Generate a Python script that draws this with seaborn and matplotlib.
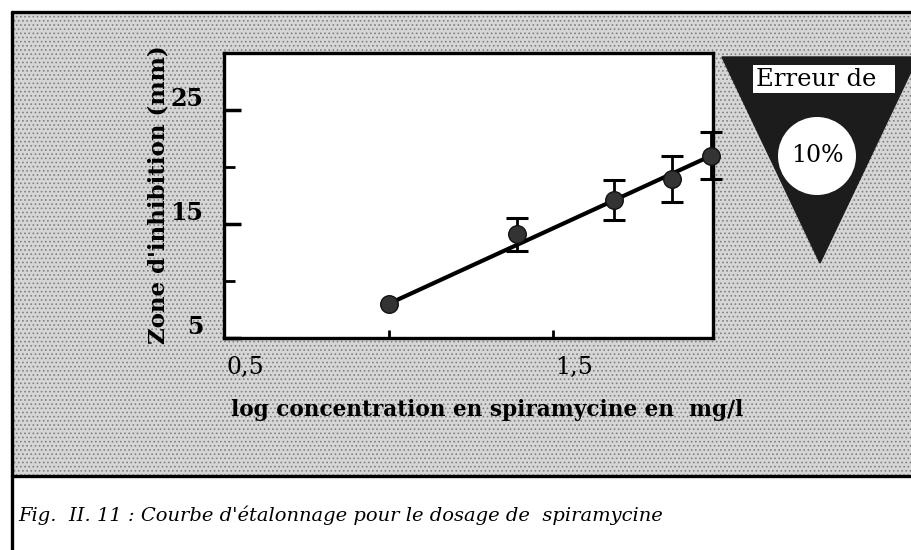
import matplotlib
matplotlib.use("Agg")
import matplotlib.pyplot as plt
import seaborn as sns
import pandas as pd
from matplotlib.patches import Rectangle, Polygon, Circle
from matplotlib.transforms import ScaledTranslation

# ---- data ----
log_conc = [1.0, 1.39, 1.685, 1.86, 1.98]
zone_mm = [8.0, 14.1, 17.1, 18.95, 21.0]
zone_err = [0.0, 1.45, 1.75, 2.0, 2.05]
fit_x = [1.0, 1.98]
fit_y = [8.0, 21.0]
x_ticks = [0.5, 1.0, 1.5]
x_ticklabels = ["0,5", "", "1,5"]
y_major = [5, 15, 25]
y_minor = [10, 20, 30]
y_ticklabels = ["5", "15", "25"]

W, H = 911, 550
sns.set_theme(style="white")
plt.rcParams["font.family"] = ["DejaVu Serif", "DejaVu Sans"]
plt.rcParams["text.color"] = "black"
plt.rcParams["axes.labelcolor"] = "black"
plt.rcParams["xtick.color"] = "black"
plt.rcParams["ytick.color"] = "black"
plt.rcParams["hatch.linewidth"] = 0.7
plt.rcParams["hatch.color"] = "#808080"

fig = plt.figure(figsize=(W / 100, H / 100), dpi=100)
fig.patch.set_facecolor("white")


def fx(px):
    return px / W


def fy(py):
    return 1 - py / H


# stippled grey background panel
bg = Rectangle((fx(12), fy(476)), fx(911) - fx(12) + 0.01, fy(12) - fy(476),
               transform=fig.transFigure, facecolor="#d6d6d6", edgecolor="#808080",
               hatch="....", linewidth=0, zorder=0)
fig.patches.append(bg)

# frame lines
for (x0, y0, x1, y1) in [(12, 12, 911, 12), (12, 12, 12, 550), (12, 476, 911, 476)]:
    fig.add_artist(plt.Line2D([fx(x0), fx(x1)], [fy(y0), fy(y1)], transform=fig.transFigure,
                              color="black", linewidth=2.4, zorder=1))

# main axes
ax = fig.add_axes([fx(224), fy(338), fx(713) - fx(224), fy(53) - fy(338)])
ax.set_zorder(5)
ax.set_facecolor("white")
df = pd.DataFrame({"x": log_conc, "y": zone_mm, "e": zone_err})
fit = pd.DataFrame({"x": fit_x, "y": fit_y})
df_err = df[df["e"] > 0]

sns.lineplot(data=fit, x="x", y="y", ax=ax, color="black", linewidth=3.0, zorder=3)
ax.errorbar(df_err["x"], df_err["y"], yerr=df_err["e"], fmt="none", ecolor="black",
            elinewidth=2.0, capsize=8, capthick=2.2, zorder=4, clip_on=False)
sns.scatterplot(data=df, x="x", y="y", ax=ax, s=160, color="#333333",
                edgecolor="#111111", linewidth=1.0, zorder=5, clip_on=False)

ax.set_xlim(0.5, 1.985)
ax.set_ylim(5, 30)
ax.set_xticks(x_ticks)
ax.set_xticklabels(x_ticklabels, fontsize=17)
ax.set_yticks(y_major)
ax.set_yticklabels(y_ticklabels, fontsize=17, fontweight="bold")
ax.set_yticks(y_minor, minor=True)
ax.tick_params(axis="x", which="major", direction="in", length=6, width=2, pad=13, bottom=True)
ax.tick_params(axis="y", which="major", direction="in", length=12, width=2.5, pad=15, left=True)
ax.tick_params(axis="y", which="minor", direction="in", length=8, width=2, left=True)
for lab in ax.get_xticklabels():
    lab.set_transform(lab.get_transform() + ScaledTranslation(0.21, 0, fig.dpi_scale_trans))
for lab in ax.get_yticklabels():
    lab.set_transform(lab.get_transform() + ScaledTranslation(0, 0.13, fig.dpi_scale_trans))
for s in ax.spines.values():
    s.set_linewidth(2.4)
    s.set_color("black")
ax.set_xlabel("")
ax.set_ylabel("")

# axis titles
fig.text(fx(487), fy(410), "log concentration en spiramycine en  mg/l", ha="center", va="center",
         fontsize=15.6, fontweight="bold")
fig.text(fx(158), fy(195), "Zone d'inhibition (mm)", ha="center", va="center", rotation=90,
         fontsize=16.5, fontweight="bold")

# inverted triangle badge
tri = Polygon([(fx(722), fy(57)), (fx(918), fy(57)), (fx(820), fy(263))], closed=True,
              transform=fig.transFigure, facecolor="#1c1c1c", edgecolor="#1c1c1c", zorder=2)
fig.patches.append(tri)
box = Rectangle((fx(753), fy(93)), fx(895) - fx(753), fy(65) - fy(93), transform=fig.transFigure,
                facecolor="white", edgecolor="none", zorder=3)
fig.patches.append(box)
fig.text(fx(756), fy(79), "Erreur de", ha="left", va="center", fontsize=17.5, zorder=4)
circ = Circle((817 / 100, (H - 156) / 100), 0.39, transform=fig.dpi_scale_trans,
              facecolor="white", edgecolor="none", zorder=3)
fig.patches.append(circ)
fig.text(fx(817), fy(156), "10%", ha="center", va="center", fontsize=17, zorder=4)

# caption
fig.text(fx(18), fy(515), "Fig.  II. 11 : Courbe d'étalonnage pour le dosage de  spiramycine",
         ha="left", va="center", fontsize=14, fontstyle="italic")

fig.savefig("out.png", dpi=100)
